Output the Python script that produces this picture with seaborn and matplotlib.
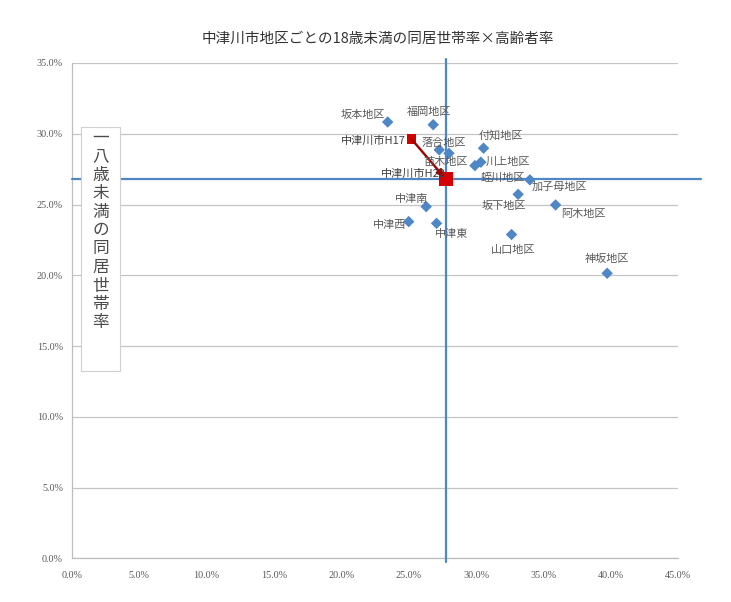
import matplotlib
matplotlib.use('Agg')
import matplotlib.pyplot as plt
import seaborn as sns
import pandas as pd
from matplotlib.patches import Rectangle

# 地区ごとの値 (x: 高齢者率 %, y: 18歳未満の同居世帯率 %)
districts = ['坂本地区', '福岡地区', '落合地区', '苗木地区', '川上地区', '付知地区',
             '蛭川地区', '加子母地区', '中津南', '中津西', '中津東', '坂下地区',
             '阿木地区', '山口地区', '神坂地区']
aging_rate = [23.44, 26.82, 27.27, 27.99, 30.36, 30.56,
              29.92, 34.0, 26.30, 25.0, 27.07, 33.13,
              35.91, 32.64, 39.74]
child_household_rate = [30.83, 30.64, 28.86, 28.62, 27.99, 28.98,
                        27.75, 26.74, 24.85, 23.79, 23.67, 25.72,
                        24.97, 22.88, 20.14]

# 市全体 H17 -> H22
city_labels = ['中津川市H17', '中津川市H22']
city_aging = [25.22, 27.74]
city_child = [29.61, 26.78]

x_ticks = [0, 5, 10, 15, 20, 25, 30, 35, 40, 45]
y_ticks = [0, 5, 10, 15, 20, 25, 30, 35]

# label offsets in pixels (dx, dy up), layout only
label_offsets = {
    '坂本地区': (-25, 7), '福岡地区': (-4, 13), '落合地区': (5, 7),
    '苗木地区': (-3, -9), '川上地区': (27, 0), '付知地区': (17, 13),
    '蛭川地区': (28, -12), '加子母地区': (30, -7), '中津南': (-15, 8),
    '中津西': (-19, -3), '中津東': (15, -11), '坂下地区': (-14, -12),
    '阿木地区': (28, -9), '山口地区': (2, -15), '神坂地区': (0, 14),
}

blue = '#4f86c6'
red = '#d40000'
gray_text = '#595959'


def main():
    sns.set_style('white')
    plt.rcParams['font.family'] = ['Noto Sans CJK JP', 'DejaVu Sans']

    df = pd.DataFrame({'district': districts, 'x': aging_rate, 'y': child_household_rate})
    city = pd.DataFrame({'label': city_labels, 'x': city_aging, 'y': city_child})

    fig = plt.figure(figsize=(7.31, 6.02), dpi=100)
    ax = fig.add_axes([72 / 731, 43.7 / 602, 606 / 731, 495.3 / 602])

    ax.set_xlim(0, 45)
    ax.set_ylim(0, 35)
    ax.set_xticks(x_ticks)
    ax.set_yticks(y_ticks)
    ax.set_xticklabels([f'{v:.1f}%' for v in x_ticks], family='Liberation Serif')
    ax.set_yticklabels([f'{v:.1f}%' for v in y_ticks], family='Liberation Serif')
    ax.tick_params(axis='both', length=0, labelsize=7.3, colors=gray_text)
    ax.tick_params(axis='y', pad=6.5)
    ax.tick_params(axis='x', pad=9.5)
    ax.yaxis.grid(True, color='#c4c4c4', lw=0.9)
    ax.xaxis.grid(False)
    ax.set_axisbelow(True)
    for side in ['top', 'right']:
        ax.spines[side].set_visible(False)
    for side in ['left', 'bottom']:
        ax.spines[side].set_color('#bdbdbd')
        ax.spines[side].set_linewidth(0.9)

    # cross lines through the H22 city value
    ax.plot([0, 46.7], [city_child[1], city_child[1]], color=blue, lw=1.6,
            clip_on=False, zorder=3)
    ax.plot([city_aging[1], city_aging[1]], [-0.27, 35.3], color=blue, lw=1.6,
            clip_on=False, zorder=3)

    sns.scatterplot(data=df, x='x', y='y', marker='D', s=34, color=blue,
                    edgecolor='none', ax=ax, zorder=4)
    sns.scatterplot(data=city.iloc[[0]], x='x', y='y', marker='s', s=48, color=red,
                    edgecolor='none', ax=ax, zorder=5)
    sns.scatterplot(data=city.iloc[[1]], x='x', y='y', marker='s', s=100, color=red,
                    edgecolor='none', ax=ax, zorder=5)
    ax.annotate('', xy=(city_aging[1] - 0.1, city_child[1] + 0.15),
                xytext=(city_aging[0], city_child[0]),
                arrowprops=dict(arrowstyle='-|>', color='#a00000', lw=1.7,
                                mutation_scale=10, shrinkA=0, shrinkB=0),
                zorder=6)
    ax.set_xlabel('')
    ax.set_ylabel('')

    for name, xv, yv in zip(districts, aging_rate, child_household_rate):
        dx, dy = label_offsets[name]
        ax.annotate(name, (xv, yv), xytext=(dx, dy), textcoords='offset pixels',
                    ha='center', va='center', fontsize=8, color=gray_text, zorder=7)
    ax.annotate(city_labels[0], (city_aging[0], city_child[0]), xytext=(-6, -2),
                textcoords='offset pixels', ha='right', va='center', fontsize=8,
                color='#404040', zorder=7)
    ax.annotate(city_labels[1], (city_aging[1], city_child[1]), xytext=(1, 6),
                textcoords='offset pixels', ha='right', va='center', fontsize=8,
                color='#404040', zorder=7)

    fig.text(378 / 731, 1 - 39 / 602, '中津川市地区ごとの18歳未満の同居世帯率×高齢者率',
             ha='center', va='center', fontsize=10.5, color='#333333')

    # vertical y label inside a box
    box = Rectangle((81 / 731, 1 - 371 / 602), 39 / 731, 244 / 602,
                    transform=fig.transFigure, facecolor='white',
                    edgecolor='#d0d0d0', lw=0.8, zorder=10)
    fig.patches.append(box)
    ylabel = '一八歳未満の同居世帯率'
    for i, ch in enumerate(ylabel):
        fig.text(100.5 / 731, 1 - (138 + i * 18.5) / 602, ch, ha='center',
                 va='center', fontsize=12, color='#4a4a4a', zorder=11)

    fig.savefig('out.png', dpi=100)


if __name__ == '__main__':
    main()
